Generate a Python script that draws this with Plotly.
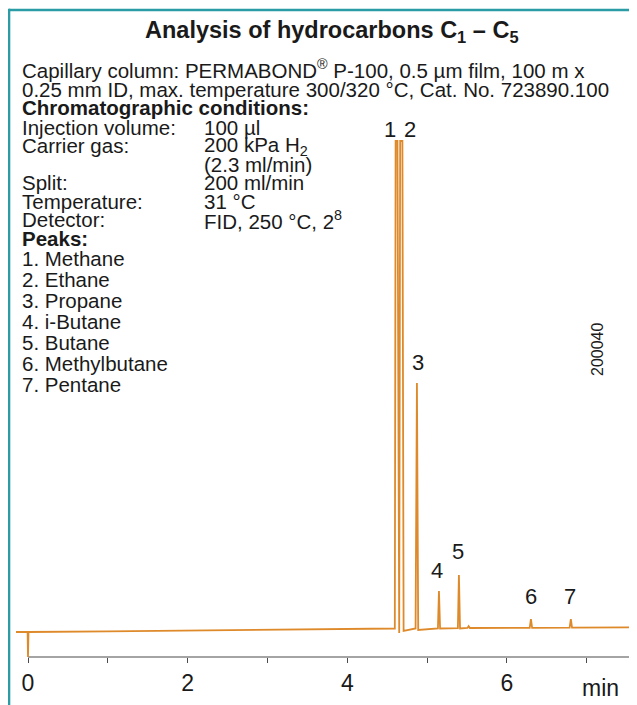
"""Chromatogram: analysis of hydrocarbons C1 - C5 on PERMABOND P-100."""

import plotly.graph_objects as go

# chromatogram trace (retention time in min, detector signal in arbitrary units)
time_min = [
    -0.15, -0.005, 0.0, 0.006, 1.0, 2.0, 3.0, 4.0, 4.595,
    4.605, 4.628, 4.650, 4.662, 4.690, 4.705,
    4.855, 4.866, 4.872, 4.888,
    5.135, 5.148, 5.162,
    5.385, 5.398, 5.412,
    5.505, 5.520, 5.535,
    6.285, 6.300, 6.315,
    6.785, 6.800, 6.815,
    7.63,
]
signal = [
    25, 25, 0, 25, 25.7, 26.5, 27.2, 28, 28.5,
    516, 516, 24, 516, 516, 26,
    28.5, 274, 274, 27,
    28.7, 66, 28.5,
    28.8, 82, 28.5,
    29, 30.8, 29,
    29.2, 38, 29.2,
    29.3, 38, 29.3,
    29.6,
]

# peak labels
peak_numbers = ["1", "2", "3", "4", "5", "6", "7"]
peak_times = [4.616, 4.676, 4.869, 5.148, 5.398, 6.300, 6.800]
peak_heights = [516, 516, 274, 66, 82, 38, 38]
peak_compounds = ["Methane", "Ethane", "Propane", "i-Butane", "Butane",
                  "Methylbutane", "Pentane"]

tick_values = [0, 1, 2, 3, 4, 5, 6, 7]
tick_labels = ["0", "", "2", "", "4", "", "6", ""]

condition_names = ["Injection volume:", "Carrier gas:", "", "Split:",
                   "Temperature:", "Detector:"]
condition_values = ["100 µl", "200 kPa H<sub>2</sub>", "(2.3 ml/min)",
                    "200 ml/min", "31 °C", "FID, 250 °C, 2<sup>8</sup>"]

# the page body adds an 8 px margin, so the figure is drawn 8 px smaller
# and all positions below are given in window pixels
OFF = 8
W, H = 637 - OFF, 705 - OFF
ORANGE = "#de8a2b"
TEAL = "#2a9ca6"
TEXT = "#1a1a1a"
FONT = "Liberation Sans, Arial, sans-serif"
BODY = 20.5


def px(x):
    return (x - OFF) / W


def py(y):
    return 1 - (y - OFF) / H


def text_at(x, y, txt, size=BODY, anchor="left", **kw):
    return dict(
        x=px(x), y=py(y), xref="paper", yref="paper", showarrow=False,
        text=txt, font=dict(size=size, color=TEXT),
        xanchor=anchor, yanchor="middle", **kw,
    )


fig = go.Figure()
fig.add_trace(go.Scatter(
    x=time_min, y=signal, mode="lines",
    line=dict(color=ORANGE, width=1.8),
    hoverinfo="skip", showlegend=False,
))

annotations = [
    text_at(332, 32, "<b>Analysis of hydrocarbons C<sub>1</sub> – C<sub>5</sub></b>",
            size=23.5, anchor="center"),
    text_at(20, 69, "Capillary column: PERMABOND<sup>®</sup> P-100, 0.5 µm film, 100 m x"),
    text_at(20, 89, "0.25 mm ID, max. temperature 300/320 °C, Cat. No. 723890.100"),
    text_at(20, 108, "<b>Chromatographic conditions:</b>"),
]

line_y = 127.5
for name, value in zip(condition_names, condition_values):
    if name:
        annotations.append(text_at(20, line_y, name))
    annotations.append(text_at(202, line_y, value))
    line_y += 18.4

annotations.append(text_at(20, line_y + 1, "<b>Peaks:</b>"))
line_y += 21
for num, comp in zip(peak_numbers, peak_compounds):
    annotations.append(text_at(20, line_y, f"{num}. {comp}"))
    line_y += 21

# peak number labels above the peaks
label_shift = [(-7, 12), (9, 12), (1, 21), (-2, 21), (-1, 24), (0, 23), (-1, 23)]
for num, t, h, (dx, dy) in zip(peak_numbers, peak_times, peak_heights, label_shift):
    annotations.append(dict(
        x=t, y=h, xref="x", yref="y", showarrow=False, text=num,
        font=dict(size=22, color=TEXT), xanchor="center",
        yanchor="middle", xshift=dx, yshift=dy,
    ))

annotations.append(text_at(600, 688, "min", size=23, anchor="center"))
annotations.append(text_at(597, 350, "200040", size=16, anchor="center",
                           textangle=-90))

shapes = [
    # x axis line starting at t = 0
    dict(type="line", xref="x", yref="y", x0=0, x1=7.7, y0=0, y1=0,
         line=dict(color="#4a4a4a", width=1.2), layer="below"),
    # teal frame (top and left)
    dict(type="line", xref="paper", yref="paper", x0=px(9), x1=1.01,
         y0=py(10), y1=py(10), line=dict(color=TEAL, width=2.6)),
    dict(type="line", xref="paper", yref="paper", x0=px(9), x1=px(9),
         y0=py(8.7), y1=-0.01, line=dict(color=TEAL, width=2.6)),
]

# x: 79.83 px per minute, t = 0 at window x = 28
x_lo = (OFF - 28) / 79.83
x_hi = (637 - 28) / 79.83
# y: 1 unit per px, signal 0 at window y = 657
y_bottom_px = 659
y_dom0 = 1 - (y_bottom_px - OFF) / H

fig.update_layout(
    width=W, height=H,
    margin=dict(l=0, r=0, t=0, b=0),
    paper_bgcolor="white", plot_bgcolor="white",
    font=dict(family=FONT, color=TEXT),
    showlegend=False,
    annotations=annotations,
    shapes=shapes,
    xaxis=dict(
        range=[x_lo, x_hi], domain=[0, 1],
        anchor="free", position=py(657),
        showgrid=False, zeroline=False, showline=False,
        tickmode="array", tickvals=tick_values, ticktext=tick_labels,
        ticks="outside", ticklen=5, tickwidth=1.2, tickcolor="#4a4a4a",
        tickfont=dict(size=23, color=TEXT),
        fixedrange=True,
    ),
    yaxis=dict(
        range=[-2, 657 - OFF], domain=[y_dom0, 1],
        visible=False, fixedrange=True,
    ),
)

fig.write_html("out.html")
